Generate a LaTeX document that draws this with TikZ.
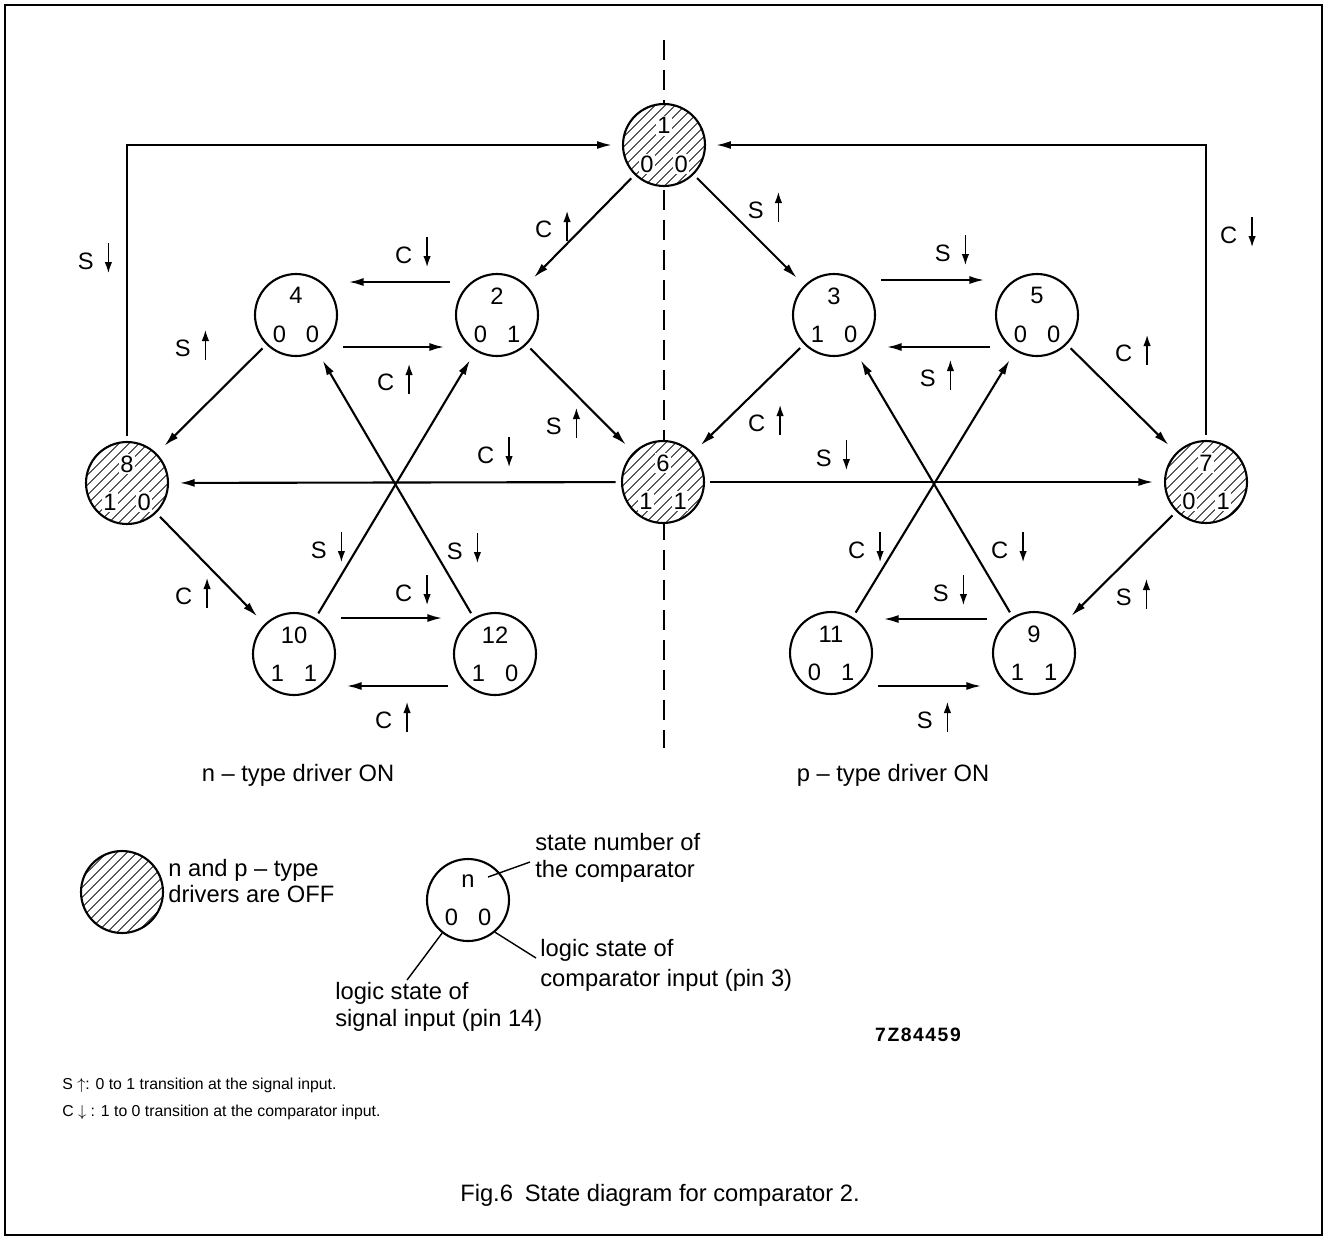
\documentclass[tikz,border=0pt]{standalone}
\usepackage{fontspec}
\setmainfont{Liberation Sans}
\usetikzlibrary{arrows.meta,patterns.meta}

\setlength{\fboxsep}{1pt}
\newcommand{\hb}[1]{\colorbox{white}{#1}}
\newcommand{\trup}{\tikz[baseline=0pt]\draw[line width=0.8pt,-{Latex[length=0.22cm,width=0.15cm]}] (0,-0.08cm) -- (0,0.52cm);}
\newcommand{\trdn}{\tikz[baseline=0pt]\draw[line width=0.8pt,-{Latex[length=0.22cm,width=0.15cm]}] (0,0.52cm) -- (0,-0.08cm);}

\begin{document}
\begin{tikzpicture}[x=0.02cm,y=-0.02cm]
        \tikzstyle{state}=[circle,draw=black,line width=1.2pt,fill=white,minimum size=1.64cm,inner sep=0pt,align=center,font=\fontsize{13.5}{16}\selectfont]
        \tikzstyle{off}=[state,preaction={fill=white},pattern={Lines[angle=45,distance=4pt,line width=0.5pt]}]
        \tikzstyle{edge}=[line width=1.2pt,-{Latex[length=0.3cm,width=0.16cm]},shorten >=6pt,shorten <=3pt]
        \tikzstyle{lead}=[line width=0.8pt]
        \tikzstyle{lbl}=[inner sep=1pt,font=\fontsize{13.5}{16}\selectfont]
        \tikzstyle{txt}=[inner sep=0pt,align=left,font=\fontsize{13.5}{15}\selectfont]

        \useasboundingbox (0,0) rectangle (1327,1238);
        \draw[line width=1.2pt] (5,5) rectangle (1322,1235);

        % axis between n and p side
        \coordinate (axtop) at (664,40);
        \coordinate (axbot) at (664,748);
        \draw[line width=1.2pt,dash pattern=on 0.4cm off 0.2cm] (axtop) -- (axbot);

        % states
        \node [off] (s1) at (664,145) {\hb{1}\\[0.2cm]\hb{0}\hspace{0.35cm}\hb{0}};
        \node [state] (s4) at (296,315) {4\\[0.2cm]0\hspace{0.4cm}0};
        \node [state] (s2) at (497,315) {2\\[0.2cm]0\hspace{0.4cm}1};
        \node [state] (s3) at (834,315) {3\\[0.2cm]1\hspace{0.4cm}0};
        \node [state] (s5) at (1037,315) {5\\[0.2cm]0\hspace{0.4cm}0};
        \node [off] (s8) at (127,483) {\hb{8}\\[0.2cm]\hb{1}\hspace{0.35cm}\hb{0}};
        \node [off] (s6) at (663,482) {\hb{6}\\[0.2cm]\hb{1}\hspace{0.35cm}\hb{1}};
        \node [off] (s7) at (1206,482) {\hb{7}\\[0.2cm]\hb{0}\hspace{0.35cm}\hb{1}};
        \node [state] (s10) at (294,654) {10\\[0.2cm]1\hspace{0.4cm}1};
        \node [state] (s12) at (495,654) {12\\[0.2cm]1\hspace{0.4cm}0};
        \node [state] (s11) at (831,653) {11\\[0.2cm]0\hspace{0.4cm}1};
        \node [state] (s9) at (1034,653) {9\\[0.2cm]1\hspace{0.4cm}1};

        % transitions
        \draw[edge] (s1) -- (s2);
        \draw[edge] (s1) -- (s3);
        \draw[edge] (s8.north) |- (s1.west);
        \draw[edge] (s7.north) |- (s1.east);
        \draw[edge] ([yshift=0.66cm]s2.west) -- ([yshift=0.66cm]s4.east);
        \draw[edge] ([yshift=-0.64cm]s4.east) -- ([yshift=-0.64cm]s2.west);
        \draw[edge] ([yshift=0.7cm]s3.east) -- ([yshift=0.7cm]s5.west);
        \draw[edge] ([yshift=-0.64cm]s5.west) -- ([yshift=-0.64cm]s3.east);
        \draw[edge] (s4) -- (s8);
        \draw[edge] (s2) -- (s6);
        \draw[edge] (s3) -- (s6);
        \draw[edge] (s5) -- (s7);
        \draw[edge] (s6) -- (s8);
        \draw[edge] (s6) -- (s7);
        \draw[edge] (s8) -- (s10);
        \draw[edge] (s7) -- (s9);
        \draw[edge] (s10) -- (s2);
        \draw[edge] (s12) -- (s4);
        \draw[edge] (s11) -- (s5);
        \draw[edge] (s9) -- (s3);
        \draw[edge] ([yshift=0.72cm]s10.east) -- ([yshift=0.72cm]s12.west);
        \draw[edge] ([yshift=-0.64cm]s12.west) -- ([yshift=-0.64cm]s10.east);
        \draw[edge] ([yshift=0.68cm]s9.west) -- ([yshift=0.68cm]s11.east);
        \draw[edge] ([yshift=-0.66cm]s11.east) -- ([yshift=-0.66cm]s9.west);

        % transition labels
        \node [lbl] (l12) at (553,226) {C\hspace{0.22cm}\trup};
        \node [lbl] (l13) at (765,207) {S\hspace{0.22cm}\trup};
        \node [lbl] (l81) at (95,258) {S\hspace{0.22cm}\trdn};
        \node [lbl] (l71) at (1238,232) {C\hspace{0.22cm}\trdn};
        \node [lbl] (l24) at (413,252) {C\hspace{0.22cm}\trdn};
        \node [lbl] (l42) at (395,379) {C\hspace{0.22cm}\trup};
        \node [lbl] (l48) at (192,345) {S\hspace{0.22cm}\trup};
        \node [lbl] (l26) at (563,423) {S\hspace{0.22cm}\trup};
        \node [lbl] (l68) at (495,452) {C\hspace{0.22cm}\trdn};
        \node [lbl] (l36) at (766,420) {C\hspace{0.22cm}\trup};
        \node [lbl] (l67) at (833,455) {S\hspace{0.22cm}\trdn};
        \node [lbl] (l35) at (952,250) {S\hspace{0.22cm}\trdn};
        \node [lbl] (l53) at (937,375) {S\hspace{0.22cm}\trup};
        \node [lbl] (l57) at (1133,350) {C\hspace{0.22cm}\trup};
        \node [lbl] (l810) at (193,593) {C\hspace{0.22cm}\trup};
        \node [lbl] (l102) at (328,547) {S\hspace{0.22cm}\trdn};
        \node [lbl] (l124) at (464,548) {S\hspace{0.22cm}\trdn};
        \node [lbl] (l1012) at (413,590) {C\hspace{0.22cm}\trdn};
        \node [lbl] (l1210) at (393,717) {C\hspace{0.22cm}\trup};
        \node [lbl] (l115) at (866,547) {C\hspace{0.22cm}\trdn};
        \node [lbl] (l93) at (1009,547) {C\hspace{0.22cm}\trdn};
        \node [lbl] (l911) at (950,590) {S\hspace{0.22cm}\trdn};
        \node [lbl] (l119) at (934,717) {S\hspace{0.22cm}\trup};
        \node [lbl] (l79) at (1133,594) {S\hspace{0.22cm}\trup};

        \node [txt] (nside) at (298,775) {n – type driver ON};
        \node [txt] (pside) at (893,775) {p – type driver ON};

        % key
        \node [off] (koff) at (122,892) {};
        \node [txt,anchor=west] (kofftxt) at (168,881) {n and p – type\\drivers are OFF};
        \node [state] (key) at (468,900) {n\\[0.2cm]0\hspace{0.4cm}0};
        \node [txt,anchor=west] (knum) at (535,858) {state number of\\the comparator};
        \node [txt,anchor=west,font=\fontsize{13.5}{17}\selectfont] (kcmp) at (540,965) {logic state of\\comparator input (pin 3)};
        \node [txt,anchor=west] (ksig) at (335,1007) {logic state of\\signal input (pin 14)};
        \coordinate (knin) at ([shift={(0.4cm,0.46cm)}]key.center);
        \coordinate (knend) at (530,862);
        \coordinate (kcend) at (536,958);
        \coordinate (ksend) at (407,980);
        \draw[lead] (knin) -- (knend);
        \draw[lead] (key.-50) -- (kcend);
        \draw[lead] (key.-128) -- (ksend);

        \node [inner sep=0pt,font=\fontsize{11}{13}\selectfont\bfseries\addfontfeature{LetterSpace=8}] (fignum) at (918,1035) {7Z84459};

        \node [anchor=west,inner sep=0pt,font=\fontsize{9}{11}\selectfont] (fn1) at (62,1085) {S $\uparrow$: 0 to 1 transition at the signal input.};
        \node [anchor=west,inner sep=0pt,font=\fontsize{9}{11}\selectfont] (fn2) at (62,1112) {C $\downarrow$ : 1 to 0 transition at the comparator input.};
        \node [inner sep=0pt,font=\fontsize{13.5}{16}\selectfont] (cap) at (660,1195) {Fig.6\enspace State diagram for comparator 2.};
\end{tikzpicture}
\end{document}
